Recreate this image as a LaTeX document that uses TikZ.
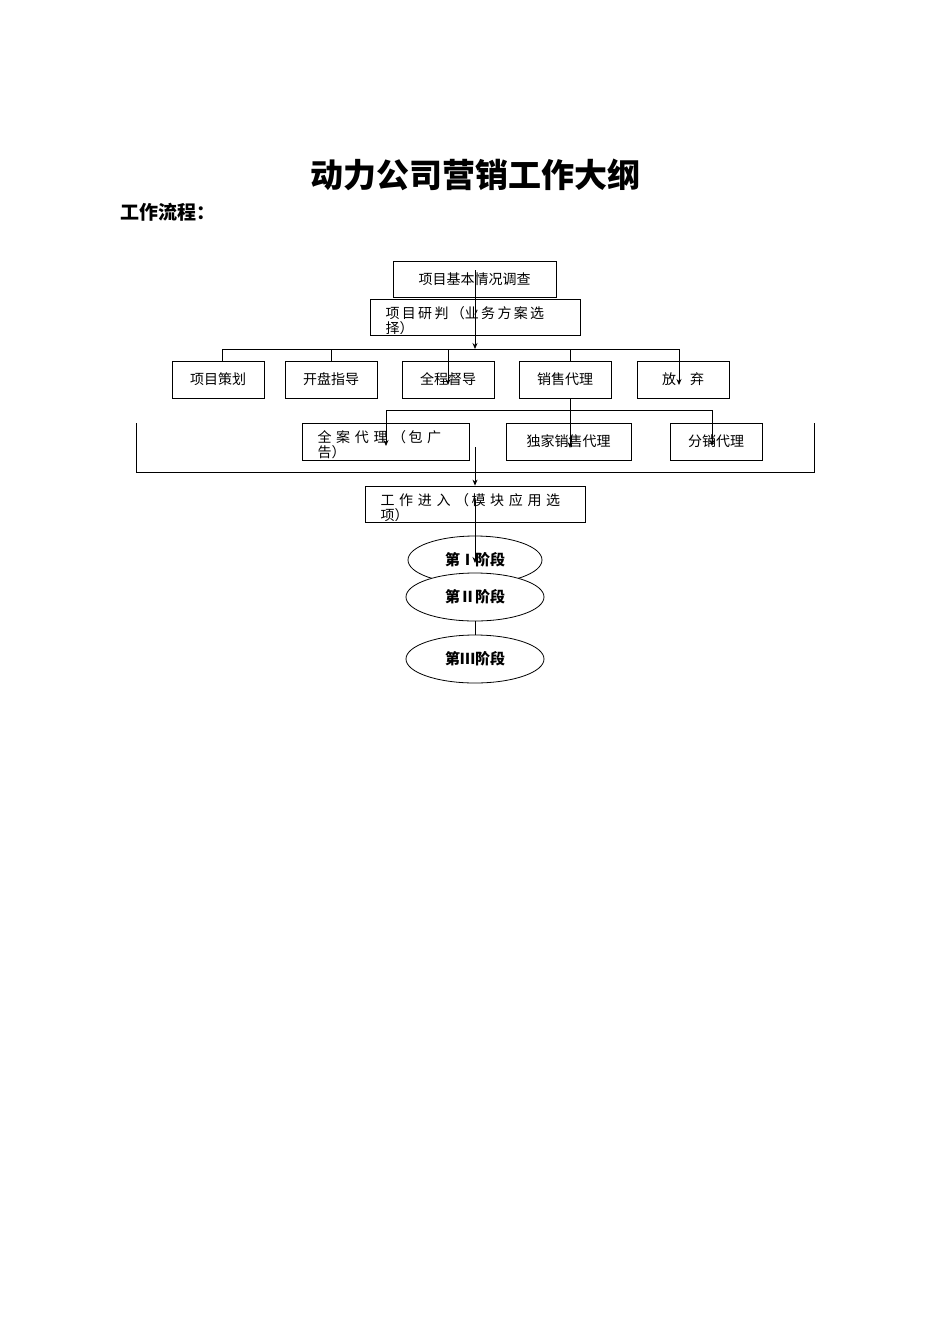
\documentclass[tikz,border=0pt]{standalone}
\usepackage{fontspec}
\newfontfamily\cjk{Noto Sans CJK SC}
\usetikzlibrary{shapes.geometric,arrows.meta}
\begin{document}
\begin{tikzpicture}[x=1pt,y=-1pt,
  box/.style={draw,thick,rectangle,inner sep=0pt},
  txt/.style={font=\cjk\fontsize{14}{15}\selectfont},
  ell/.style={draw,thick,ellipse,inner sep=0pt,font=\cjk\bfseries\fontsize{15}{16}\selectfont},
  arr/.style={thick,-{Stealth[length=6pt,width=5pt]}},
  ln/.style={thick}]
\useasboundingbox (0,0) rectangle (950,1344);
\node[font=\cjk\bfseries\fontsize{33}{36}\selectfont] (title) at (475,175) {动力公司营销工作大纲};
\node[font=\cjk\bfseries\fontsize{19}{21}\selectfont,anchor=west] (sub) at (117,212) {工作流程：};
% boxes
\node[box,minimum width=163,minimum height=36,txt] (A) at (474.5,279) {项目基本情况调查};
\node[box,minimum width=210,minimum height=36] (B) at (475,317) {};
\begin{scope}
\clip (370,299) rectangle (580,333);
\node[txt,anchor=north west,align=left] (Bt) at (382,303) {项\,目\,研\,判\,（业\,务\,方\,案\,选\\择）};
\end{scope}
\node[box,minimum width=92,minimum height=37,txt] (p1) at (218,379.5) {项目策划};
\node[box,minimum width=92,minimum height=37,txt] (p2) at (331,379.5) {开盘指导};
\node[box,minimum width=92,minimum height=37,txt] (p3) at (448,379.5) {全程督导};
\node[box,minimum width=92,minimum height=37,txt] (p4) at (565,379.5) {销售代理};
\node[box,minimum width=92,minimum height=37,txt] (p5) at (683,379.5) {放\quad 弃};
\node[box,minimum width=167,minimum height=37] (q1) at (385.5,441.5) {};
\begin{scope}
\clip (302,423) rectangle (469,458);
\node[txt,anchor=north west,align=left] (q1t) at (314,427) {全\,\,案\,\,代\,\,理\,\,（\,包\,\,广\\告）};
\end{scope}
\node[box,minimum width=125,minimum height=37,txt] (q2) at (568.5,441.5) {独家销售代理};
\node[box,minimum width=92,minimum height=37,txt] (q3) at (716,441.5) {分销代理};
\node[box,minimum width=220,minimum height=36] (W) at (475,504) {};
\begin{scope}
\clip (365,486) rectangle (585,520);
\node[txt,anchor=north west,align=left] (Wt) at (377,490) {工\,\,作\,\,进\,\,入\,\,（\,模\,\,块\,\,应\,\,用\,\,选\\项）};
\end{scope}
\node[ell,minimum width=134,minimum height=48] (e1) at (475,560) {第Ⅰ阶段};
\node[ell,minimum width=138,minimum height=48,fill=white] (e2) at (475,597) {第Ⅱ阶段};
\node[ell,minimum width=138,minimum height=48] (e3) at (475,659) {第Ⅲ阶段};
% connectors
\coordinate (busL) at (222,349);
\coordinate (busR) at (679,349);
\coordinate (b1) at (475,349);
\draw[arr] (475,270) -- (b1);
\draw[ln] (busL) -- (busR);
\draw[ln] (busL) -- (p1.north -| busL);
\draw[ln] (331,349) -- (p2.north);
\draw[arr] (448,349) -- (448,385);
\draw[ln] (570,349) -- (570,361);
\draw[arr] (busR) -- (679,385);
\coordinate (s1) at (386,410);
\coordinate (s2) at (712,410);
\draw[arr] (570,398) -- (570,448);
\draw[ln] (s1) -- (s2);
\draw[arr] (s1) -- (386,446);
\draw[arr] (s2) -- (712,446);
\draw[ln] (136,423) -- (136,472) -- (814,472) -- (814,423);
\draw[arr] (475,447) -- (W.north);
\draw[arr] (475,500) -- (475,563);
\draw[ln] (e2.south) -- (e3.north);
\end{tikzpicture}
\end{document}
